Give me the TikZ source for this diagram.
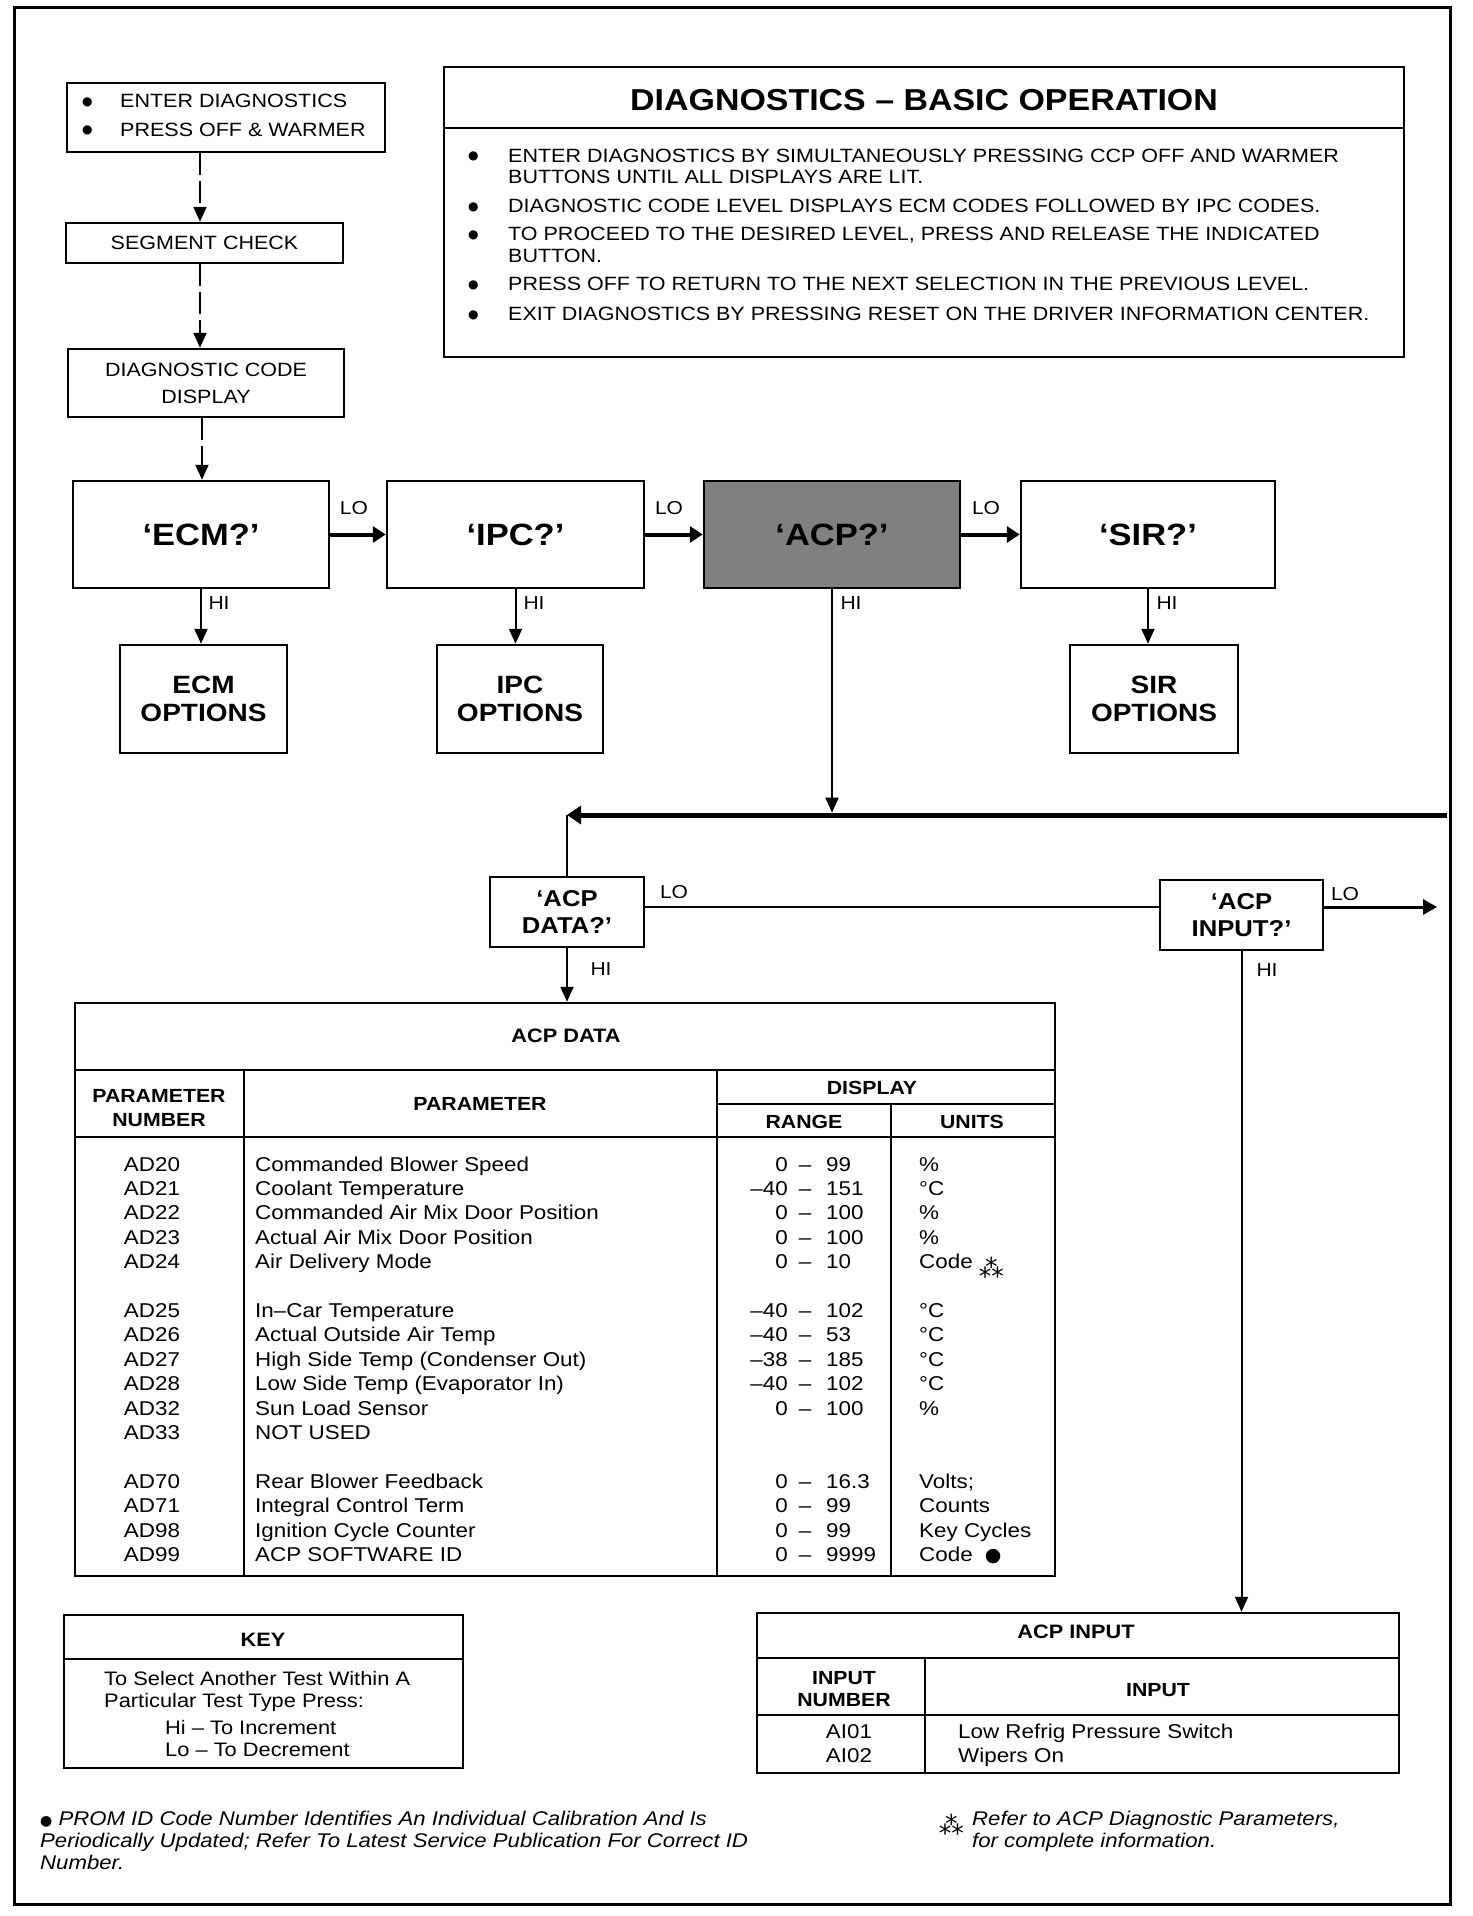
\documentclass[tikz,border=0pt]{standalone}
\usepackage{fontspec}
\setmainfont[FakeStretch=1.12]{Liberation Sans}
\newfontfamily\dejavu{DejaVu Sans}
\usetikzlibrary{arrows.meta}
\newcommand\fs[1]{\fontsize{#1}{#1}\selectfont}
\newcommand\bigdot[1]{{\dejavu\fontsize{#1}{#1}\selectfont ●}}
\newcommand\bul{\raisebox{2pt}{\bigdot{12}}}
\newcommand\astm{\raisebox{-9pt}{\dejavu\fontsize{25}{25}\selectfont ⁂}}
\begin{document}
\begin{tikzpicture}[x=1pt,y=-1pt,
  box/.style={draw, line width=2.5pt, inner sep=0pt, align=center},
  conn/.style={line width=2pt},
  tip/.style={-{Triangle[width=13pt,length=15pt]}},
  thicktip/.style={line width=4pt,-{Triangle[width=16pt,length=13pt]}},
  dsh/.style={dash pattern=on 22pt off 6pt},
  lbl/.style={font=\fs{18.75}, inner sep=0pt},
  txt/.style={inner sep=0pt},
  tl/.style={line width=2.5pt}]
\useasboundingbox (0,0) rectangle (1472,1916);
% outer frame
\draw[line width=3pt] (14,8) rectangle (1450,1904);

% top left flow
\node[box, minimum width=318pt, minimum height=69pt] (tl) at (226,117.5) {};
\node[txt, anchor=base west, font=\fs{19.2}] (tla) at (82,108) {\makebox[38pt][l]{\bul}ENTER DIAGNOSTICS};
\node[txt, anchor=base west, font=\fs{19.2}] (tlb) at (82,136) {\makebox[38pt][l]{\bul}PRESS OFF \& WARMER};
\node[box, minimum width=277pt, minimum height=40pt, font=\fs{19.2}] (seg) at (204.5,243) {SEGMENT CHECK};
\node[box, minimum width=276pt, minimum height=68pt, font=\fontsize{19.2}{27}\selectfont] (dcd) at (206,383) {DIAGNOSTIC CODE\\DISPLAY};
\coordinate (dx) at (200,0);
\coordinate (dx2) at (202,0);

% basic operation box
\node[box, minimum width=960pt, minimum height=290pt] (ops) at (924,212) {};
\draw[tl] (ops.west |- 0,128) coordinate (opsl) -- (ops.east |- opsl);
\node[txt, font=\bfseries\fs{30.3}] (opt) at (924,100) {DIAGNOSTICS – BASIC OPERATION};
\node[txt, anchor=base west, font=\fs{19.2}] (op1) at (468,162) {\makebox[40pt][l]{\bul}ENTER DIAGNOSTICS BY SIMULTANEOUSLY PRESSING CCP OFF AND WARMER};
\node[txt, anchor=base west, font=\fs{19.2}] (op2) at (468,183) {\hspace*{40pt}BUTTONS UNTIL ALL DISPLAYS ARE LIT.};
\node[txt, anchor=base west, font=\fs{19.2}] (op3) at (468,212) {\makebox[40pt][l]{\bul}DIAGNOSTIC CODE LEVEL DISPLAYS ECM CODES FOLLOWED BY IPC CODES.};
\node[txt, anchor=base west, font=\fs{19.2}] (op4) at (468,240) {\makebox[40pt][l]{\bul}TO PROCEED TO THE DESIRED LEVEL, PRESS AND RELEASE THE INDICATED};
\node[txt, anchor=base west, font=\fs{19.2}] (op5) at (468,262) {\hspace*{40pt}BUTTON.};
\node[txt, anchor=base west, font=\fs{19.2}] (op6) at (468,290) {\makebox[40pt][l]{\bul}PRESS OFF TO RETURN TO THE NEXT SELECTION IN THE PREVIOUS LEVEL.};
\node[txt, anchor=base west, font=\fs{19.2}] (op7) at (468,320) {\makebox[40pt][l]{\bul}EXIT DIAGNOSTICS BY PRESSING RESET ON THE DRIVER INFORMATION CENTER.};

% main row
\node[box, minimum width=256pt, minimum height=107pt, font=\bfseries\fs{30.8}] (ecm) at (201,534.5) {‘ECM?’};
\node[box, minimum width=257pt, minimum height=107pt, font=\bfseries\fs{30.8}] (ipc) at (515.5,534.5) {‘IPC?’};
\node[box, fill=black!50, minimum width=256pt, minimum height=107pt, font=\bfseries\fs{30.8}] (acp) at (832,534.5) {‘ACP?’};
\node[box, minimum width=254pt, minimum height=107pt, font=\bfseries\fs{30.8}] (sir) at (1148,534.5) {‘SIR?’};

\node[box, minimum width=167pt, minimum height=108pt, font=\bfseries\fontsize{25}{28}\selectfont] (ecmo) at (203.5,699) {ECM\\OPTIONS};
\node[box, minimum width=166pt, minimum height=108pt, font=\bfseries\fontsize{25}{28}\selectfont] (ipco) at (520,699) {IPC\\OPTIONS};
\node[box, minimum width=168pt, minimum height=108pt, font=\bfseries\fontsize{25}{28}\selectfont] (siro) at (1154,699) {SIR\\OPTIONS};

% dashed connectors
\draw[conn, dsh, tip] (tl.south -| dx) -- (seg.north -| dx);
\draw[conn, dsh, tip] (seg.south -| dx) -- (dcd.north -| dx);
\draw[conn, dsh, tip] (dcd.south -| dx2) -- (ecm.north -| dx2);

% LO arrows top row
\draw[thicktip] (ecm.east) -- (ipc.west);
\draw[thicktip] (ipc.east) -- (acp.west);
\draw[thicktip] (acp.east) -- (sir.west);
\node[lbl] (lo1) at (354,508) {LO};
\node[lbl] (lo2) at (669,508) {LO};
\node[lbl] (lo3) at (986,508) {LO};

% HI arrows
\draw[conn, tip] (ecm.south) -- (ecm.south |- ecmo.north);
\draw[conn, tip] (ipc.south) -- (ipc.south |- ipco.north);
\draw[conn, tip] (sir.south) -- (sir.south |- siro.north);
\node[lbl] (hi1) at (219,603) {HI};
\node[lbl] (hi2) at (534,603) {HI};
\node[lbl] (hi3) at (851,603) {HI};
\node[lbl] (hi4) at (1167,603) {HI};

% bus
\coordinate (busR) at (1447,815);
\coordinate (busL) at (567,815);
\draw[conn, tip, shorten >=2.5pt] (acp.south) -- (acp.south |- busL);
\draw[line width=5pt, -{Triangle[width=18pt,length=14pt]}] (busR) -- (busL);

% ACP DATA / INPUT selectors
\node[box, minimum width=154pt, minimum height=70pt, font=\bfseries\fontsize{22.9}{27}\selectfont] (acpd) at (567,912) {‘ACP\\DATA?’};
\node[box, minimum width=163pt, minimum height=70pt, font=\bfseries\fontsize{22.9}{27}\selectfont] (acpi) at (1241.5,915) {‘ACP\\INPUT?’};
\draw[conn] (busL) -- (acpd.north);
\coordinate (loy) at (0,907);
\draw[conn] (acpd.east |- loy) -- (acpi.west |- loy);
\coordinate (loend) at (1437,907);
\draw[line width=3pt, -{Triangle[width=15pt,length=14pt]}] (acpi.east |- loy) -- (loend);
\node[lbl] (lo4) at (674,892) {LO};
\node[lbl] (lo5) at (1345,894) {LO};
\node[lbl] (hi5) at (601,969) {HI};
\node[lbl] (hi6) at (1267,970) {HI};

% ACP DATA table
\node[box, minimum width=980pt, minimum height=573pt] (dat) at (565,1289.5) {};
\draw[conn, tip] (acpd.south) -- (acpd.south |- dat.north);
\draw[tl] (75,1070) -- (1055,1070);
\draw[tl] (75,1137) -- (1055,1137);
\draw[tl] (717,1104) -- (1055,1104);
\draw[line width=2pt] (244,1070) -- (244,1576);
\draw[line width=2pt] (717,1070) -- (717,1576);
\draw[line width=2pt] (891,1104) -- (891,1576);
\node[txt, font=\bfseries\fs{19.4}] (dtt) at (566,1036) {ACP DATA};
\node[txt, font=\bfseries\fontsize{19}{24}\selectfont, align=center] (h1) at (159,1108) {PARAMETER\\NUMBER};
\node[txt, font=\bfseries\fs{19}] (h2) at (480,1104) {PARAMETER};
\node[txt, font=\bfseries\fs{19}] (h3) at (872,1088) {DISPLAY};
\node[txt, font=\bfseries\fs{19}] (h4) at (804,1122) {RANGE};
\node[txt, font=\bfseries\fs{19}] (h5) at (972,1122) {UNITS};

\foreach \r/\n/\p/\lo/\hi/\u in {
  0/AD20/Commanded Blower Speed/0/99/\%,
  1/AD21/Coolant Temperature/–40/151/°C,
  2/AD22/Commanded Air Mix Door Position/0/100/\%,
  3/AD23/Actual Air Mix Door Position/0/100/\%,
  4/AD24/Air Delivery Mode/0/10/Code \astm,
  6/AD25/In–Car Temperature/–40/102/°C,
  7/AD26/Actual Outside Air Temp/–40/53/°C,
  8/AD27/High Side Temp (Condenser Out)/–38/185/°C,
  9/AD28/Low Side Temp (Evaporator In)/–40/102/°C,
  10/AD32/Sun Load Sensor/0/100/\%,
  13/AD70/Rear Blower Feedback/0/16.3/Volts;,
  14/AD71/Integral Control Term/0/99/Counts,
  15/AD98/Ignition Cycle Counter/0/99/Key Cycles,
  16/AD99/ACP SOFTWARE ID/0/9999/Code\hspace{12pt}\bigdot{19}}{
  \pgfmathsetmacro\yb{1164+\r*24.4+7}
  \node[txt, anchor=base, font=\fs{20}] (pn\r) at (152,\yb) {\n};
  \node[txt, anchor=base west, font=\fs{20}] (pp\r) at (255,\yb) {\p};
  \node[txt, anchor=base east, font=\fs{20}] (rl\r) at (788,\yb) {\lo};
  \node[txt, anchor=base, font=\fs{20}] (rd\r) at (805,\yb) {–};
  \node[txt, anchor=base west, font=\fs{20}] (rh\r) at (826,\yb) {\hi};
  \node[txt, anchor=base west, font=\fs{20}] (un\r) at (919,\yb) {\u};
}
\pgfmathsetmacro\yc{1164+11*24.4+7}
\node[txt, anchor=base, font=\fs{20}] (pn11) at (152,\yc) {AD33};
\node[txt, anchor=base west, font=\fs{20}] (pp11) at (255,\yc) {NOT USED};

% KEY
\node[box, minimum width=399pt, minimum height=153pt] (key) at (263.5,1691.5) {};
\draw[tl] (key.west |- 0,1659) coordinate (keyl) -- (key.east |- keyl);
\node[txt, font=\bfseries\fs{19.4}] (keyt) at (263,1640) {KEY};
\node[txt, anchor=base west, font=\fs{19.5}] (k1) at (104,1685) {To Select Another Test Within A};
\node[txt, anchor=base west, font=\fs{19.5}] (k2) at (104,1707) {Particular Test Type Press:};
\node[txt, anchor=base west, font=\fs{19.5}] (k3) at (165,1734) {Hi – To Increment};
\node[txt, anchor=base west, font=\fs{19.5}] (k4) at (165,1756) {Lo – To Decrement};

% ACP INPUT table
\node[box, minimum width=642pt, minimum height=160pt] (inp) at (1078,1693) {};
\draw[conn, tip] (acpi.south) -- (acpi.south |- inp.north);
\draw[tl] (757,1658) -- (1399,1658);
\draw[tl] (757,1715) -- (1399,1715);
\draw[line width=2pt] (925,1658) -- (925,1773);
\node[txt, font=\bfseries\fs{19.4}] (it) at (1076,1632) {ACP INPUT};
\node[txt, font=\bfseries\fontsize{19}{22}\selectfont, align=center] (ih1) at (844,1689) {INPUT\\NUMBER};
\node[txt, font=\bfseries\fs{19}] (ih2) at (1158,1690) {INPUT};
\node[txt, anchor=base, font=\fs{20}] (ai1) at (849,1738) {AI01};
\node[txt, anchor=base, font=\fs{20}] (ai2) at (849,1762) {AI02};
\node[txt, anchor=base west, font=\fs{20}] (ai1t) at (958,1738) {Low Refrig Pressure Switch};
\node[txt, anchor=base west, font=\fs{20}] (ai2t) at (958,1762) {Wipers On};

% footnotes
\node[txt, anchor=base west, font=\itshape\fs{19.8}] (fn1) at (40,1825) {\bigdot{14} PROM ID Code Number Identifies An Individual Calibration And Is};
\node[txt, anchor=base west, font=\itshape\fs{19.8}] (fn2) at (40,1847) {Periodically Updated; Refer To Latest Service Publication For Correct ID};
\node[txt, anchor=base west, font=\itshape\fs{19.8}] (fn3) at (40,1869) {Number.};
\node[txt, anchor=base east, font=\fs{19.8}] (fra) at (964,1825) {\astm};
\node[txt, anchor=base west, font=\itshape\fs{19.8}] (fr1) at (972,1825) {Refer to ACP Diagnostic Parameters,};
\node[txt, anchor=base west, font=\itshape\fs{19.8}] (fr2) at (972,1847) {for complete information.};
\end{tikzpicture}
\end{document}
